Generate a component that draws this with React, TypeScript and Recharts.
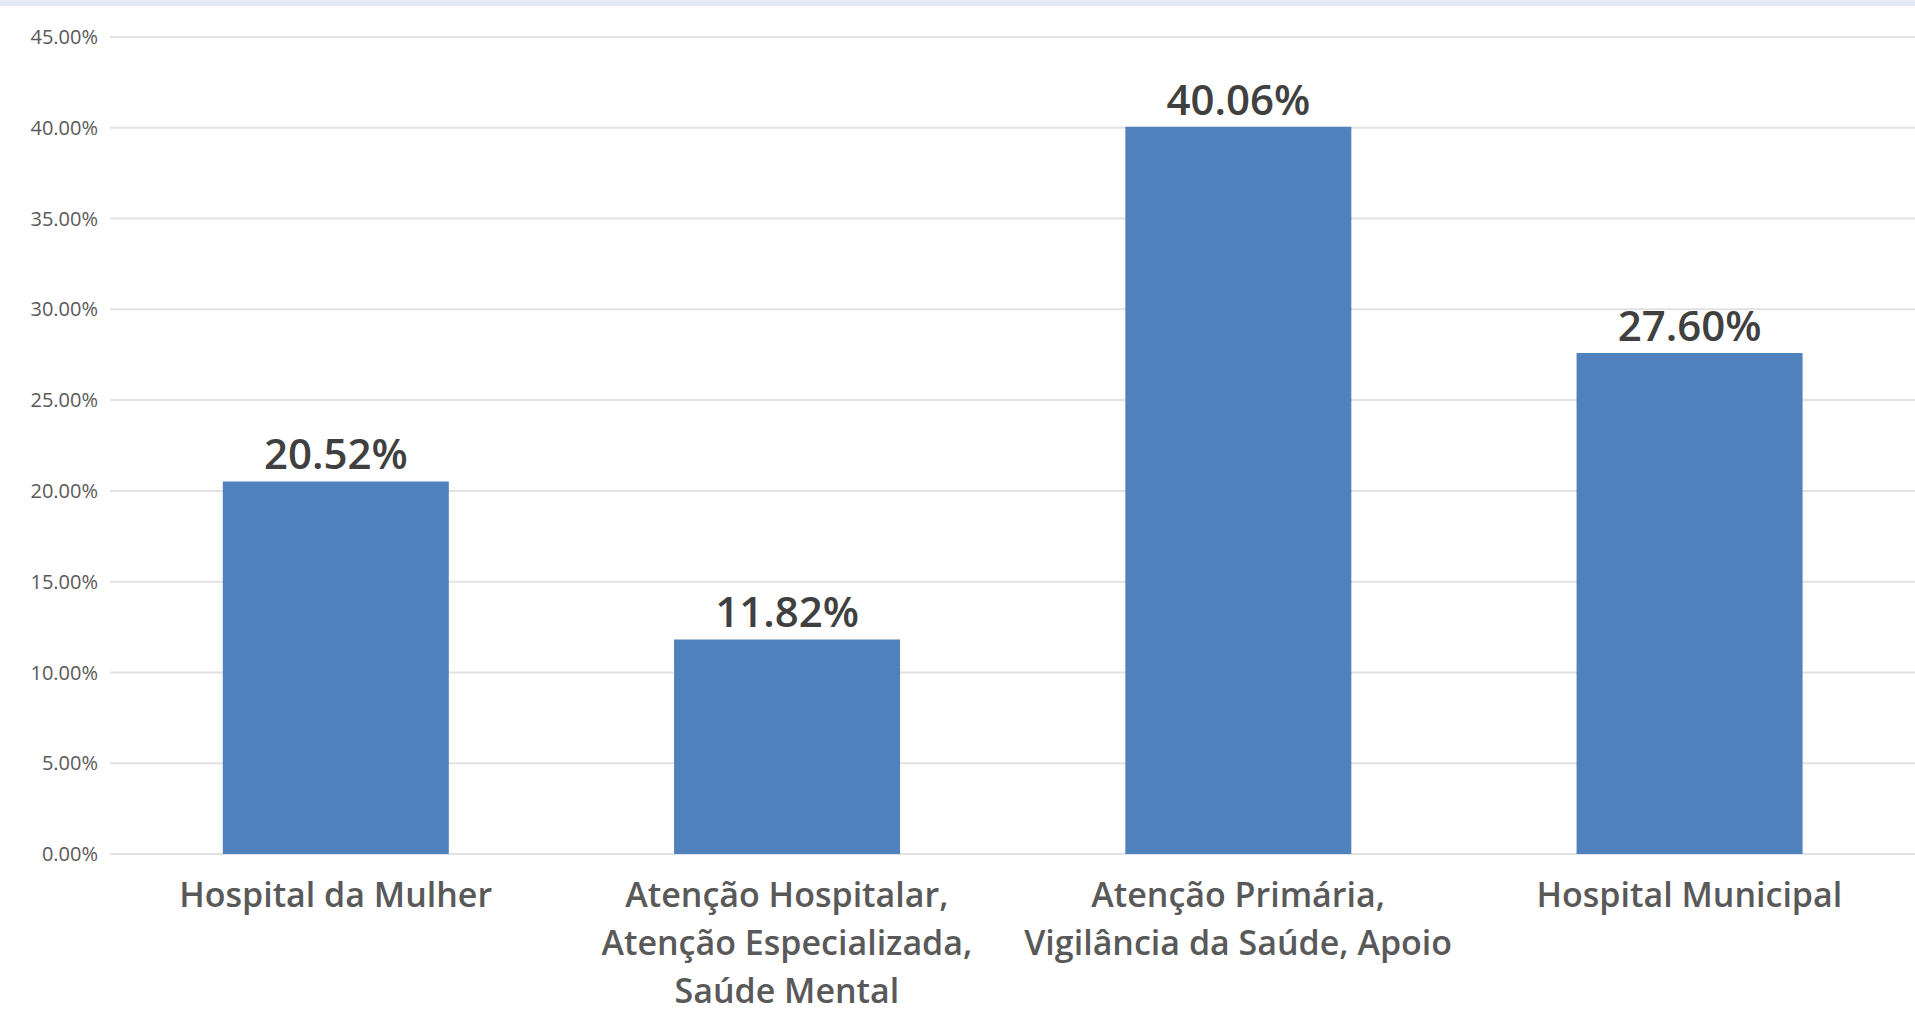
import { BarChart, Bar, XAxis, YAxis, CartesianGrid, LabelList } from "recharts";

const categories = [
  "Hospital da Mulher",
  "Atenção Hospitalar,\nAtenção Especializada,\nSaúde Mental",
  "Atenção Primária,\nVigilância da Saúde, Apoio",
  "Hospital Municipal",
];
const shares = [20.52, 11.82, 40.06, 27.6];
const yTicks = [0, 5, 10, 15, 20, 25, 30, 35, 40, 45];

const data = categories.map((name, i) => ({ name, value: shares[i] }));

const FONT = "'Open Sans', Lato, sans-serif";

const CategoryTick = (props: any) => {
  const { x, y, payload } = props;
  const lines = String(payload.value).split("\n");
  return (
    <g>
      {lines.map((line, i) => (
        <text
          key={i}
          x={x}
          y={y + 53 + i * 48}
          textAnchor="middle"
          fill="#595959"
          fontSize={34}
          fontWeight={600}
          fontFamily={FONT}
        >
          {line}
        </text>
      ))}
    </g>
  );
};

const App = () => {
  return (
    <div
      style={{
        position: "absolute",
        top: 0,
        left: 0,
        width: 1915,
        height: 1030,
        background: "#ffffff",
        overflow: "hidden",
      }}
    >
      <div style={{ position: "absolute", top: 0, left: 0, width: 1915, height: 6, background: "#e4e9f3" }} />
      <BarChart
        width={1915}
        height={1030}
        data={data}
        margin={{ top: 37, right: 0, bottom: 0, left: 0 }}
        barCategoryGap="25%"
      >
        <CartesianGrid vertical={false} stroke="#e2e2e2" strokeWidth={2} />
        <XAxis
          dataKey="name"
          axisLine={false}
          tickLine={false}
          tickSize={0}
          tickMargin={0}
          height={176}
          interval={0}
          tick={<CategoryTick />}
        />
        <YAxis
          domain={[0, 45]}
          ticks={yTicks}
          width={110}
          axisLine={false}
          tickLine={false}
          tickSize={0}
          tickMargin={12}
          tickFormatter={(v: number) => v.toFixed(2) + "%"}
          tick={{ fill: "#595959", fontSize: 20, fontFamily: FONT }}
        />
        <Bar dataKey="value" fill="#4f81bd" isAnimationActive={false}>
          <LabelList
            dataKey="value"
            position="top"
            offset={12}
            formatter={(v: any) => Number(v).toFixed(2) + "%"}
            fill="#404040"
            fontSize={42}
            fontWeight={600}
            fontFamily={FONT}
          />
        </Bar>
      </BarChart>
    </div>
  );
};

export default App;
